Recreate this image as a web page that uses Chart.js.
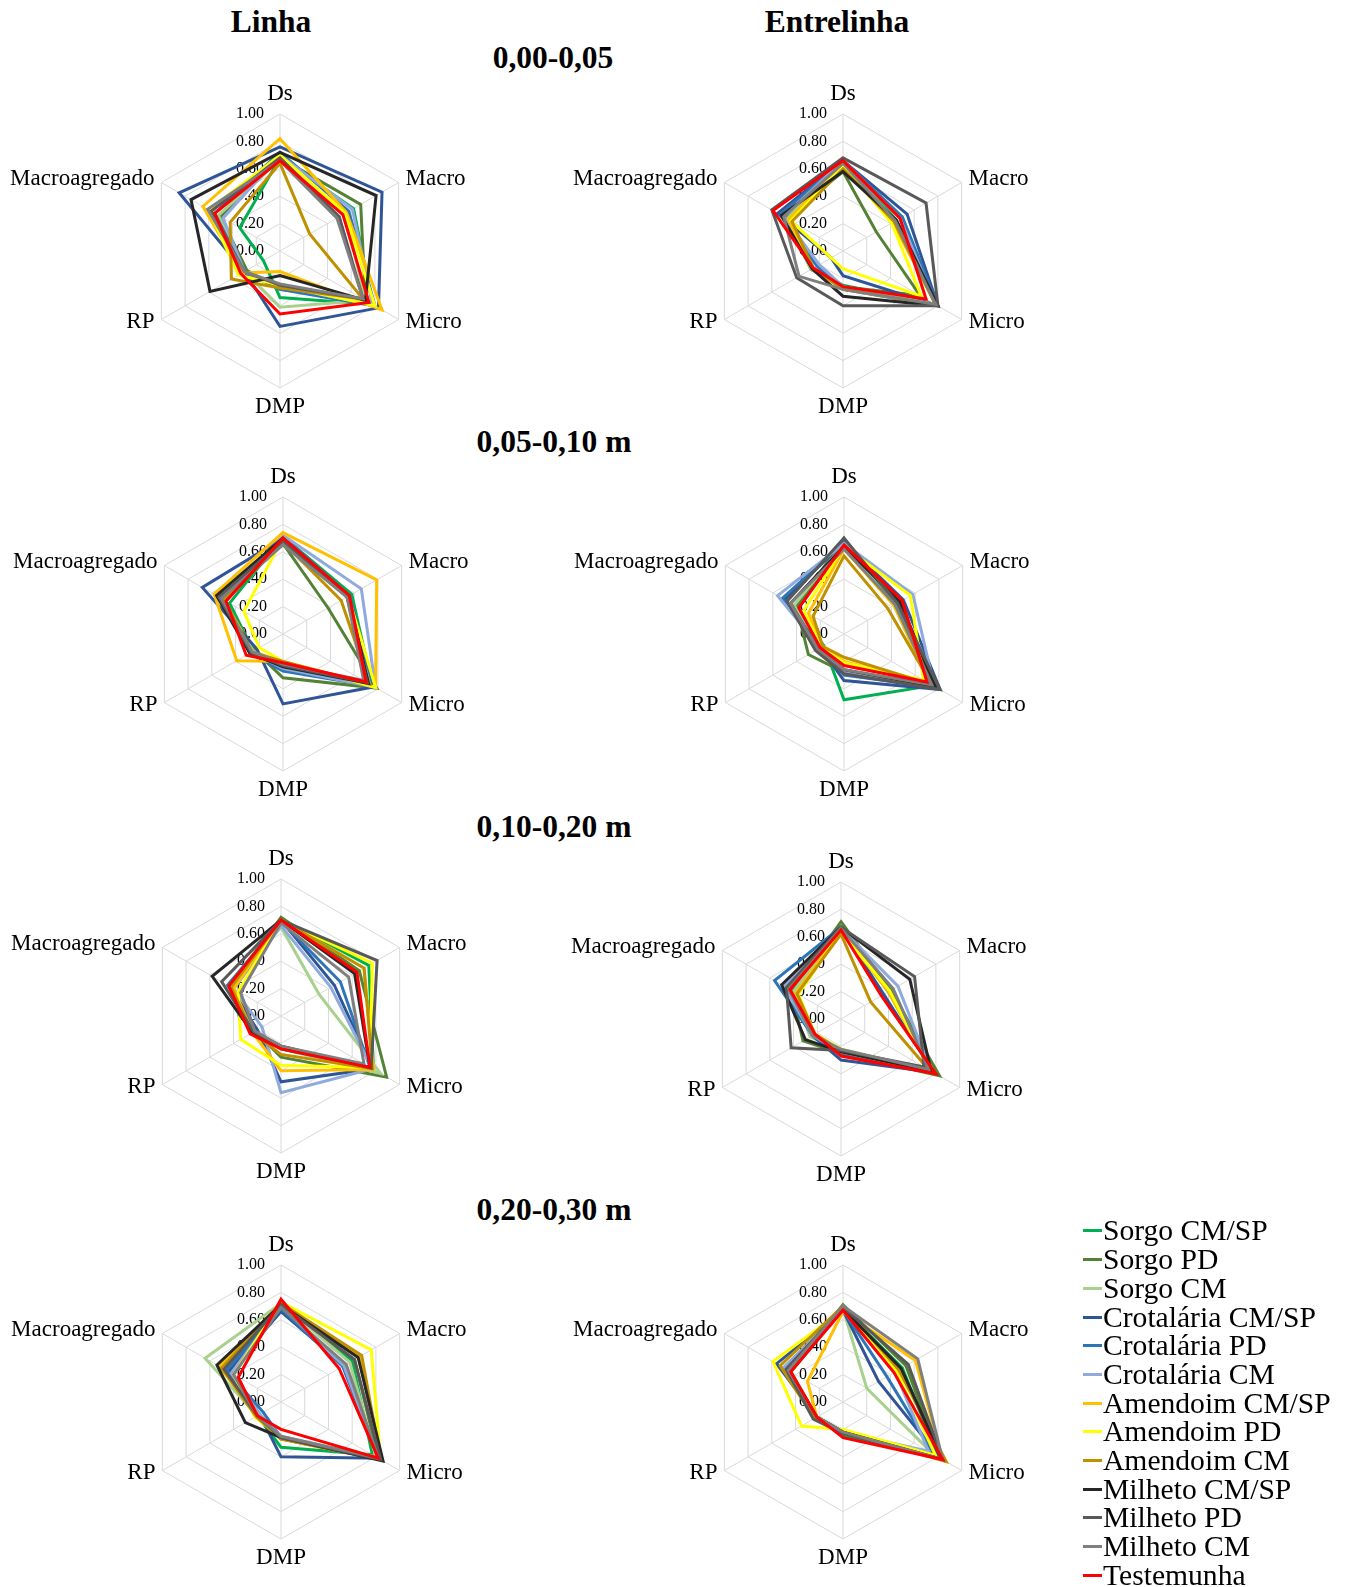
<!DOCTYPE html>
<html><head><meta charset="utf-8">
<script src="https://cdn.jsdelivr.net/npm/chart.js@4.4.1/dist/chart.umd.min.js"></script>
<style>
html,body{margin:0;padding:0;background:#fff;overflow:hidden;width:1350px;height:1587px;}
.t{position:absolute;font-family:"Liberation Serif","Times New Roman",serif;font-weight:bold;font-size:31.5px;color:#000;transform:translate(-50%,-50%);white-space:nowrap;line-height:1;}
canvas{position:absolute;}
#legend{position:absolute;left:1083px;font-family:"Liberation Serif","Times New Roman",serif;font-size:29.6px;color:#000;}
.li{display:flex;align-items:center;height:28.7px;white-space:nowrap;}
.li .m{display:inline-block;width:19px;height:3px;margin-right:1px;}
</style></head><body>
<div id="wrap"></div>
<div id="legend"></div>
<script>
// ---------- data ----------
const AXES = ['Ds','Macro','Micro','DMP','RP','Macroagregado'];
const SERIES = ['Sorgo CM/SP','Sorgo PD','Sorgo CM','Crotalária CM/SP','Crotalária PD','Crotalária CM','Amendoim CM/SP','Amendoim PD','Amendoim CM','Milheto CM/SP','Milheto PD','Milheto CM','Testemunha'];
const COLORS = ['#00B050','#548235','#A9D18E','#2F5597','#2E75B6','#8FAADC','#FFC000','#FFFF00','#BF9000','#262626','#595959','#7F7F7F','#FF0000'];
const TICKS = [0,0.2,0.4,0.6,0.8,1.0];
const COLUMN_TITLES = ['Linha','Entrelinha'];
const DEPTHS = ['0,00-0,05','0,05-0,10 m','0,10-0,20 m','0,20-0,30 m'];

// each row: [Ds, Macro, Micro, DMP, RP, Macroagregado], one row per series
const linha_0_05 = [
 [0.68,0.62,0.78,0.34,0.14,0.34],
 [0.68,0.68,0.72,0.28,0.28,0.50],
 [0.67,0.55,0.72,0.41,0.30,0.52],
 [0.76,0.86,0.83,0.55,0.30,0.85],
 [0.72,0.58,0.80,0.28,0.30,0.55],
 [0.70,0.61,0.78,0.26,0.30,0.48],
 [0.82,0.56,0.86,0.15,0.32,0.65],
 [0.70,0.55,0.80,0.25,0.35,0.60],
 [0.64,0.25,0.70,0.27,0.41,0.42],
 [0.72,0.81,0.72,0.18,0.59,0.75],
 [0.68,0.50,0.70,0.25,0.30,0.58],
 [0.66,0.48,0.70,0.24,0.30,0.61],
 [0.66,0.53,0.75,0.46,0.33,0.55]];
const entre_0_05 = [
 [0.66,0.45,0.78,0.25,0.25,0.45],
 [0.58,0.28,0.65,0.26,0.27,0.48],
 [0.65,0.44,0.78,0.26,0.27,0.47],
 [0.66,0.54,0.80,0.18,0.10,0.55],
 [0.66,0.50,0.80,0.28,0.22,0.53],
 [0.66,0.48,0.78,0.26,0.20,0.50],
 [0.64,0.42,0.78,0.28,0.26,0.46],
 [0.63,0.41,0.66,0.13,0.10,0.44],
 [0.60,0.43,0.78,0.28,0.25,0.43],
 [0.58,0.45,0.80,0.33,0.26,0.52],
 [0.68,0.70,0.80,0.40,0.39,0.60],
 [0.64,0.44,0.78,0.28,0.37,0.50],
 [0.66,0.48,0.70,0.26,0.25,0.59]];
const linha_05_10 = [
 [0.71,0.58,0.75,0.23,0.25,0.45],
 [0.66,0.38,0.79,0.32,0.24,0.50],
 [0.70,0.55,0.74,0.22,0.25,0.50],
 [0.70,0.54,0.77,0.51,0.22,0.68],
 [0.71,0.56,0.76,0.27,0.28,0.52],
 [0.72,0.66,0.78,0.25,0.27,0.50],
 [0.74,0.79,0.78,0.20,0.39,0.58],
 [0.70,0.55,0.78,0.20,0.20,0.33],
 [0.67,0.49,0.73,0.20,0.26,0.50],
 [0.70,0.55,0.72,0.24,0.28,0.56],
 [0.68,0.54,0.71,0.23,0.27,0.54],
 [0.65,0.54,0.68,0.22,0.26,0.52],
 [0.70,0.56,0.70,0.21,0.31,0.48]];
const entre_05_10 = [
 [0.66,0.44,0.75,0.48,0.17,0.40],
 [0.70,0.44,0.75,0.28,0.30,0.40],
 [0.66,0.42,0.72,0.28,0.22,0.42],
 [0.67,0.50,0.81,0.34,0.20,0.50],
 [0.67,0.47,0.78,0.30,0.20,0.52],
 [0.66,0.58,0.76,0.28,0.20,0.56],
 [0.62,0.42,0.73,0.20,0.18,0.30],
 [0.64,0.56,0.67,0.21,0.19,0.34],
 [0.57,0.37,0.74,0.17,0.18,0.26],
 [0.64,0.47,0.77,0.26,0.22,0.45],
 [0.70,0.45,0.81,0.29,0.24,0.48],
 [0.62,0.43,0.74,0.26,0.22,0.45],
 [0.65,0.49,0.70,0.23,0.20,0.38]];
const linha_10_20 = [
 [0.71,0.74,0.78,0.24,0.22,0.44],
 [0.72,0.66,0.89,0.30,0.22,0.42],
 [0.65,0.32,0.84,0.24,0.22,0.40],
 [0.70,0.45,0.77,0.48,0.20,0.43],
 [0.69,0.50,0.75,0.24,0.22,0.45],
 [0.66,0.42,0.77,0.56,0.16,0.40],
 [0.70,0.70,0.78,0.40,0.24,0.40],
 [0.70,0.77,0.75,0.36,0.34,0.36],
 [0.70,0.70,0.77,0.28,0.24,0.42],
 [0.70,0.62,0.75,0.22,0.24,0.58],
 [0.70,0.81,0.76,0.22,0.23,0.50],
 [0.68,0.57,0.70,0.22,0.22,0.34],
 [0.70,0.64,0.75,0.24,0.26,0.44]];
const entre_10_20 = [
 [0.66,0.40,0.78,0.24,0.24,0.40],
 [0.71,0.42,0.83,0.25,0.32,0.42],
 [0.66,0.40,0.77,0.23,0.26,0.40],
 [0.66,0.36,0.78,0.30,0.24,0.46],
 [0.67,0.40,0.78,0.26,0.24,0.56],
 [0.66,0.48,0.76,0.24,0.24,0.48],
 [0.64,0.40,0.76,0.24,0.22,0.38],
 [0.64,0.41,0.76,0.22,0.22,0.36],
 [0.62,0.25,0.74,0.23,0.22,0.37],
 [0.67,0.58,0.76,0.24,0.30,0.50],
 [0.67,0.62,0.70,0.23,0.42,0.46],
 [0.66,0.44,0.74,0.22,0.24,0.44],
 [0.65,0.34,0.80,0.27,0.22,0.43]];
const linha_20_30 = [
 [0.72,0.60,0.77,0.33,0.20,0.44],
 [0.71,0.62,0.82,0.27,0.20,0.46],
 [0.72,0.58,0.80,0.26,0.20,0.64],
 [0.66,0.53,0.82,0.40,0.18,0.44],
 [0.68,0.52,0.82,0.26,0.15,0.46],
 [0.70,0.53,0.82,0.25,0.18,0.42],
 [0.72,0.66,0.84,0.27,0.20,0.52],
 [0.73,0.76,0.84,0.26,0.22,0.40],
 [0.72,0.68,0.84,0.27,0.21,0.50],
 [0.71,0.65,0.86,0.26,0.30,0.54],
 [0.71,0.62,0.84,0.26,0.20,0.48],
 [0.69,0.55,0.82,0.25,0.20,0.40],
 [0.75,0.49,0.82,0.20,0.20,0.36]];
const entre_20_30 = [
 [0.68,0.50,0.80,0.25,0.22,0.44],
 [0.71,0.53,0.82,0.22,0.22,0.46],
 [0.68,0.20,0.76,0.22,0.22,0.46],
 [0.67,0.30,0.82,0.22,0.22,0.56],
 [0.67,0.37,0.77,0.22,0.23,0.50],
 [0.67,0.44,0.72,0.22,0.22,0.50],
 [0.66,0.61,0.84,0.22,0.22,0.30],
 [0.67,0.45,0.78,0.20,0.35,0.59],
 [0.70,0.47,0.87,0.22,0.24,0.53],
 [0.68,0.49,0.84,0.22,0.22,0.46],
 [0.69,0.55,0.84,0.23,0.25,0.48],
 [0.70,0.63,0.84,0.22,0.22,0.46],
 [0.67,0.43,0.84,0.26,0.22,0.44]];

// ---------- layout ----------
const PANELS = [
 {data: linha_0_05,  cx: 280, cy: 251},
 {data: entre_0_05,  cx: 843, cy: 251},
 {data: linha_05_10, cx: 283, cy: 634},
 {data: entre_05_10, cx: 844, cy: 634},
 {data: linha_10_20, cx: 281, cy: 1016},
 {data: entre_10_20, cx: 841, cy: 1019},
 {data: linha_20_30, cx: 281, cy: 1402},
 {data: entre_20_30, cx: 843, cy: 1402}
];
const TITLE_POS = [
 {text: COLUMN_TITLES[0], x: 271, y: 22},
 {text: COLUMN_TITLES[1], x: 837, y: 22},
 {text: DEPTHS[0], x: 553, y: 58},
 {text: DEPTHS[1], x: 554, y: 442},
 {text: DEPTHS[2], x: 554, y: 827},
 {text: DEPTHS[3], x: 554, y: 1210}
];

const wrap = document.getElementById('wrap');
TITLE_POS.forEach(t => {
  const d = document.createElement('div');
  d.className = 't'; d.textContent = t.text;
  d.style.left = t.x + 'px'; d.style.top = t.y + 'px';
  wrap.appendChild(d);
});

const FONT = '"Liberation Serif", "Times New Roman", serif';
const LABEL_DY = [0, 0, -2, 0, -2, 0];
const textPlugin = {
  id: 'radarText',
  beforeDatasetsDraw(chart) {
    const s = chart.scales.r;
    const ctx = chart.ctx;
    ctx.save();
    ctx.fillStyle = '#000';
    ctx.font = '16px ' + FONT;
    ctx.textAlign = 'right';
    ctx.textBaseline = 'middle';
    s.ticks.forEach(t => {
      const d = s.getDistanceFromCenterForValue(t.value);
      ctx.fillText(t.value.toFixed(2), s.xCenter - 16, s.yCenter - d);
    });
    ctx.font = '23px ' + FONT;
    AXES.forEach((lab, i) => {
      let off = 8, align;
      if (i === 0) { off = 20; align = 'center'; }
      else if (i === 3) { off = 19; align = 'center'; }
      else align = i < 3 ? 'left' : 'right';
      const p = s.getPointPosition(i, s.drawingArea + off);
      ctx.textAlign = align;
      ctx.fillText(lab, p.x, p.y + LABEL_DY[i]);
    });
    ctx.restore();
  }
};

const CW = 560, CH = 360, R = 137, CXo = 280, CYo = 190;
PANELS.forEach(p => {
  const c = document.createElement('canvas');
  c.width = CW; c.height = CH;
  c.style.width = CW + 'px'; c.style.height = CH + 'px';
  c.style.left = (p.cx - CXo) + 'px';
  c.style.top = (p.cy - CYo) + 'px';
  wrap.appendChild(c);
  new Chart(c.getContext('2d'), {
    type: 'radar',
    data: {
      labels: AXES,
      datasets: SERIES.map((name, i) => ({
        label: name,
        data: p.data[i],
        borderColor: COLORS[i],
        backgroundColor: COLORS[i],
        borderWidth: 3,
        pointRadius: 0,
        pointHoverRadius: 0,
        fill: false,
        tension: 0,
        order: SERIES.length - i
      }))
    },
    options: {
      responsive: false,
      devicePixelRatio: 1,
      animation: false,
      layout: {padding: {left: CXo - R, right: CW - CXo - R, top: CYo - R, bottom: CH - CYo - R}},
      plugins: {legend: {display: false}, tooltip: {enabled: false}},
      scales: {
        r: {
          min: TICKS[0], max: TICKS[TICKS.length - 1],
          ticks: {stepSize: TICKS[1] - TICKS[0], display: false},
          grid: {color: '#d9d9d9', lineWidth: 1, circular: false},
          angleLines: {color: '#d9d9d9', lineWidth: 1},
          pointLabels: {display: false}
        }
      }
    },
    plugins: [textPlugin]
  });
});

// legend
const lg = document.getElementById('legend');
lg.style.top = (1231 - 14.35) + 'px';
SERIES.forEach((name, i) => {
  const row = document.createElement('div');
  row.className = 'li';
  const m = document.createElement('span');
  m.className = 'm'; m.style.background = COLORS[i];
  row.appendChild(m);
  row.appendChild(document.createTextNode(name));
  lg.appendChild(row);
});
</script>
</body></html>
